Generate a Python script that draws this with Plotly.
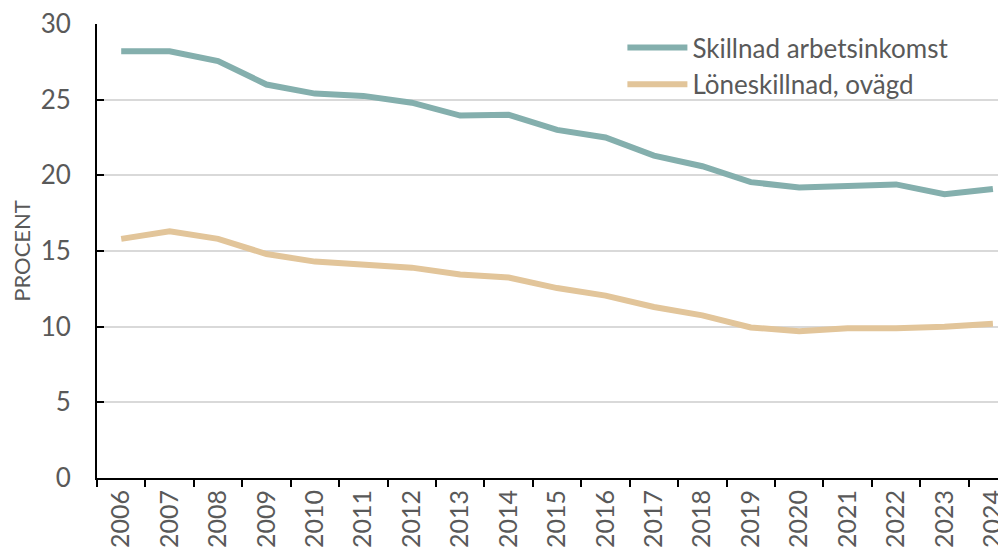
import plotly.graph_objects as go

# --- data -------------------------------------------------------------------
YEARS = [str(y) for y in range(2006, 2025)]
ARBETSINKOMST = [28.2, 28.2, 27.55, 26.0, 25.4, 25.25, 24.8, 23.95, 24.0, 23.0,
                 22.5, 21.3, 20.6, 19.55, 19.2, 19.3, 19.4, 18.75, 19.1]
LONESKILLNAD = [15.8, 16.3, 15.8, 14.8, 14.3, 14.1, 13.9, 13.45, 13.25, 12.55,
                12.05, 11.3, 10.75, 9.95, 9.7, 9.9, 9.9, 10.0, 10.2]
SERIES_NAMES = ["Skillnad arbetsinkomst", "Löneskillnad, ovägd"]

# --- palett -----------------------------------------------------------------
TEAL = "#84AFAD"
SAND = "#E2C59A"
TEXT = "#595959"
GRID = "#D9D9D9"
FONT = "Lato, sans-serif"

fig = go.Figure()
for name, vals, col, grp in [
    (SERIES_NAMES[0], ARBETSINKOMST, TEAL, "a"),
    (SERIES_NAMES[1], LONESKILLNAD, SAND, "b"),
]:
    fig.add_trace(
        go.Scatter(
            x=YEARS,
            y=vals,
            name=name,
            mode="lines",
            legendgroup=grp,
            line=dict(color=col, width=6),
        )
    )

# sidan har 8 px body-marginal, därför 998x546
fig.update_layout(
    width=998,
    height=546,
    paper_bgcolor="white",
    plot_bgcolor="white",
    font=dict(family=FONT, color=TEXT, size=26),
    margin=dict(l=89, r=0, t=16, b=76),
    showlegend=True,
    legend=dict(
        x=0.578,
        y=1.0,
        xanchor="left",
        yanchor="top",
        bgcolor="rgba(0,0,0,0)",
        font=dict(family=FONT, color=TEXT, size=26),
        traceorder="grouped",
        tracegroupgap=0,
        itemwidth=60,
    ),
)

fig.update_xaxes(
    type="category",
    range=[-0.5, 18.27],
    automargin=False,
    tickson="boundaries",
    ticks="outside",
    ticklen=7,
    tickwidth=2,
    tickcolor="black",
    showline=True,
    linecolor="black",
    linewidth=2,
    showgrid=False,
    tickangle=-90,
    ticklabeloverflow="allow",
    tickfont=dict(family=FONT, color=TEXT, size=25),
)
fig.update_yaxes(
    range=[0, 30],
    tickvals=[0, 5, 10, 15, 20, 25, 30],
    automargin=False,
    ticks="inside",
    ticklen=7,
    tickwidth=2,
    tickcolor="black",
    showline=True,
    linecolor="black",
    linewidth=2,
    gridcolor=GRID,
    gridwidth=2,
    zeroline=False,
    ticklabeloverflow="allow",
    ticklabelstandoff=19,
    tickfont=dict(family=FONT, color=TEXT, size=26),
    title=dict(text="PROCENT", font=dict(family=FONT, color=TEXT, size=22), standoff=6),
)

fig.write_html("out.html")
